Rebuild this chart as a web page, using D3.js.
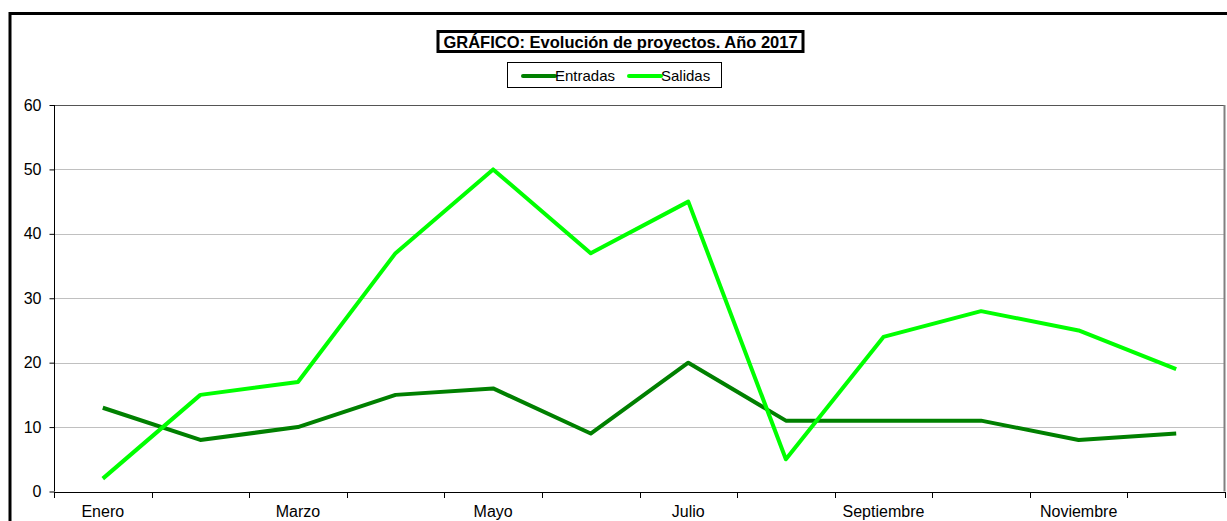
<!DOCTYPE html>
<html><head><meta charset="utf-8">
<script src="https://cdn.jsdelivr.net/npm/d3@7"></script>
<style>body{margin:0;background:#fff}svg{display:block;font-family:"Liberation Sans",Arial,sans-serif}</style>
</head><body><svg id="c" width="1227" height="521"></svg>
<script>
const months = ["Enero","Febrero","Marzo","Abril","Mayo","Junio","Julio","Agosto","Septiembre","Octubre","Noviembre","Diciembre"];
const entradas = [13,8,10,15,16,9,20,11,11,11,8,9];
const salidas = [2,15,17,37,50,37,45,5,24,28,25,19];
const yTicks = [0,10,20,30,40,50,60];
const seriesNames = ["Entradas","Salidas"];
const seriesColors = ["#008000","#00ff00"];

const svg = d3.select("#c");
const m = {l:54, t:105, r:1225, b:491.5};
svg.append("rect").attr("x",10).attr("y",13.5).attr("width",1240).attr("height",540)
  .attr("fill","none").attr("stroke","#000").attr("stroke-width",3);

const x = d3.scaleBand().domain(months).range([m.l, m.r]);
const y = d3.scaleLinear().domain([0,60]).range([m.b, m.t]);

// gridlines
svg.append("g").selectAll("line").data(yTicks.filter(d=>d>0)).join("line")
  .attr("x1",m.l).attr("x2",m.r).attr("y1",d=>Math.round(y(d))+0.5).attr("y2",d=>Math.round(y(d))+0.5)
  .attr("stroke",d=>d===60?"#555":"#c0c0c0").attr("stroke-width",1);
svg.append("line").attr("x1",m.r-0.5).attr("x2",m.r-0.5).attr("y1",m.t).attr("y2",m.b)
  .attr("stroke","#808080").attr("stroke-width",2);

// y axis
const ya = svg.append("g").attr("transform",`translate(${m.l+0.5},0)`)
  .call(d3.axisLeft(y).tickValues(yTicks).tickSize(5).tickPadding(8));
ya.select(".domain").attr("stroke","#000").attr("d",`M0,${m.t}V${m.b}`);
ya.selectAll("text").attr("font-size",16).attr("fill","#000");

// x axis
const xa = svg.append("g").attr("transform",`translate(0,${Math.round(m.b)+0.5})`)
  .call(d3.axisBottom(x).tickSize(0).tickPadding(13).tickFormat((d,i)=>i%2===0?d:""));
xa.select(".domain").attr("stroke","#000").attr("d",`M${m.l},0H${m.r}`);
xa.selectAll("text").attr("font-size",16).attr("fill","#000");
svg.append("g").selectAll("line").data(months.concat(["_end"])).join("line")
  .attr("x1",(d,i)=>Math.round(m.l+i*x.bandwidth())+0.5).attr("x2",(d,i)=>Math.round(m.l+i*x.bandwidth())+0.5)
  .attr("y1",Math.round(m.b)).attr("y2",Math.round(m.b)+6).attr("stroke","#000");

// lines
const line = d3.line().x((d,i)=>x(months[i])+x.bandwidth()/2).y(d=>y(d));
[entradas,salidas].forEach((s,k)=>{
  svg.append("path").datum(s).attr("d",line).attr("fill","none")
    .attr("stroke",seriesColors[k]).attr("stroke-width",4).attr("stroke-linejoin","round");
});

// title
const tb = svg.append("g");
tb.append("rect").attr("x",438).attr("y",31.5).attr("width",365).attr("height",20)
  .attr("fill","#fff").attr("stroke","#000").attr("stroke-width",3);
tb.append("text").attr("x",620.5).attr("y",47.5).attr("text-anchor","middle")
  .attr("font-size",16.5).attr("font-weight","bold").text("GRÁFICO: Evolución de proyectos. Año 2017");

// legend
const lg = svg.append("g");
lg.append("rect").attr("x",507.5).attr("y",62.5).attr("width",214).attr("height",25)
  .attr("fill","#fff").attr("stroke","#000").attr("stroke-width",1);
const lx = [523,629];
seriesNames.forEach((n,k)=>{
  lg.append("line").attr("x1",lx[k]).attr("x2",lx[k]+32).attr("y1",76).attr("y2",76)
    .attr("stroke",seriesColors[k]).attr("stroke-width",4).attr("stroke-linecap","round");
  lg.append("text").attr("x",lx[k]+32).attr("y",81).attr("font-size",15).text(n);
});
</script></body></html>
